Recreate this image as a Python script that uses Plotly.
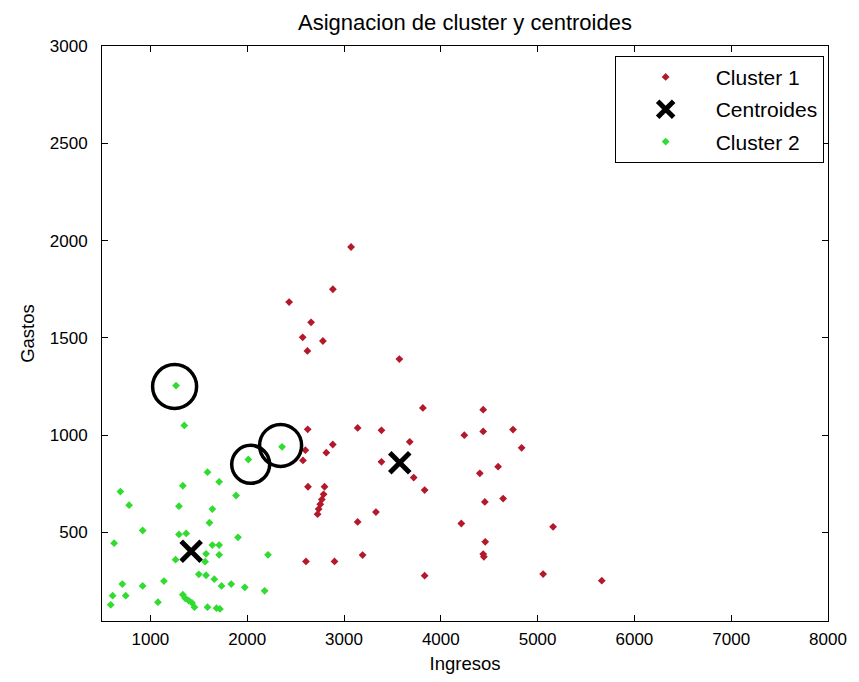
import plotly.graph_objects as go

# Cluster 1 (red)
c1_x = [3073, 2885, 2433, 2660, 2573, 2782, 2622, 3572, 3815, 2625, 3141, 3387, 3679, 2884,
        2601, 2817, 2576, 3387, 3720, 2628, 2799, 3833, 2789, 2771, 2755, 2738, 2727, 3330,
        3141, 3192, 2607, 2902, 3833, 4438, 4243, 4438, 4746, 4835, 4592, 4403, 4455, 4644,
        4212, 5160, 4459, 4438, 4445, 5057, 5663]
c1_y = [1967, 1750, 1684, 1580, 1503, 1484, 1433, 1391, 1140, 1030, 1037, 1025, 966, 952,
        923, 910, 870, 863, 782, 735, 735, 718, 696, 670, 645, 620, 594, 605,
        554, 384, 351, 351, 278, 1131, 1000, 1019, 1029, 935, 838, 804, 657, 674,
        546, 529, 452, 389, 375, 286, 252]

# Cluster 2 (green)
c2_x = [1265, 1350, 1590, 1710, 1335, 690, 1885, 780, 1295, 1640, 1610, 920, 1295, 1370,
        1905, 625, 1640, 1710, 1575, 1710, 2215, 1260, 1565, 1500, 1575, 1660, 1140, 710,
        920, 1735, 1835, 1975, 2180, 610, 745, 1335, 1360, 1395, 1430, 1455, 1078, 590,
        1590, 1683, 1718, 2012, 2360]
c2_y = [1255, 1050, 810, 760, 740, 710, 690, 640, 635, 620, 550, 510, 490, 495,
        475, 445, 435, 435, 390, 385, 385, 360, 350, 285, 280, 260, 250, 235,
        225, 225, 235, 218, 200, 175, 175, 180, 162, 150, 138, 116, 142, 128,
        116, 111, 107, 875, 940]

# Centroids
cen_x = [3576, 1421]
cen_y = [858, 403]

# Highlighted points (circles)
circ_x = [1250, 2036, 2345]
circ_y = [1250, 850, 947]
circ_size = [44, 38, 42]

x_ticks = [1000, 2000, 3000, 4000, 5000, 6000, 7000, 8000]
y_ticks = [500, 1000, 1500, 2000, 2500, 3000]

FONT = "Liberation Sans"
RED = "#b3182b"
GREEN = "#2fdc2f"

fig = go.Figure()
fig.add_trace(go.Scatter(x=c1_x, y=c1_y, mode="markers", name="Cluster 1",
                         legendgroup="a",
                         marker=dict(symbol="diamond", size=6, color=RED)))
fig.add_trace(go.Scatter(x=cen_x, y=cen_y, mode="markers", name="Centroides",
                         legendgroup="b",
                         marker=dict(symbol="x-thin", size=20, color="black",
                                     line=dict(color="black", width=5))))
fig.add_trace(go.Scatter(x=c2_x, y=c2_y, mode="markers", name="Cluster 2",
                         legendgroup="c",
                         marker=dict(symbol="diamond", size=6, color=GREEN)))
fig.add_trace(go.Scatter(x=circ_x, y=circ_y, mode="markers", showlegend=False,
                         opacity=1,
                         marker=dict(symbol="circle-open", size=circ_size, color="#000000",
                                     opacity=1,
                                     line=dict(color="#000000", width=3.5))))

axis_common = dict(showgrid=False, zeroline=False, showline=True, linecolor="black",
                   linewidth=1, mirror="ticks", ticks="inside", ticklen=6,
                   tickcolor="black", tickfont=dict(family=FONT, size=17, color="black"))

fig.update_layout(
    width=859, height=682,
    margin=dict(l=102, r=26, t=46, b=60),
    paper_bgcolor="white", plot_bgcolor="white",
    title=dict(text="Asignacion de cluster y centroides", x=0.5, xanchor="center",
               xref="paper", y=1 - 22 / 682, yanchor="middle",
               font=dict(family=FONT, size=22, color="black")),
    xaxis=dict(range=[500, 8000], tickvals=x_ticks, ticklabelstandoff=3,
               title=dict(text="Ingresos", font=dict(family=FONT, size=18.5, color="black"),
                          standoff=8),
               **axis_common),
    yaxis=dict(range=[45, 3000], tickvals=y_ticks, ticklabelstandoff=10,
               title=dict(text="Gastos", font=dict(family=FONT, size=18.5, color="black"),
                          standoff=10),
               **axis_common),
    legend=dict(x=0.994, y=0.983, xanchor="right", yanchor="top",
                bordercolor="black", borderwidth=1, bgcolor="white",
                font=dict(family=FONT, size=21, color="black"),
                tracegroupgap=2, itemwidth=90),
    showlegend=True,
)

fig.write_html("out.html")
